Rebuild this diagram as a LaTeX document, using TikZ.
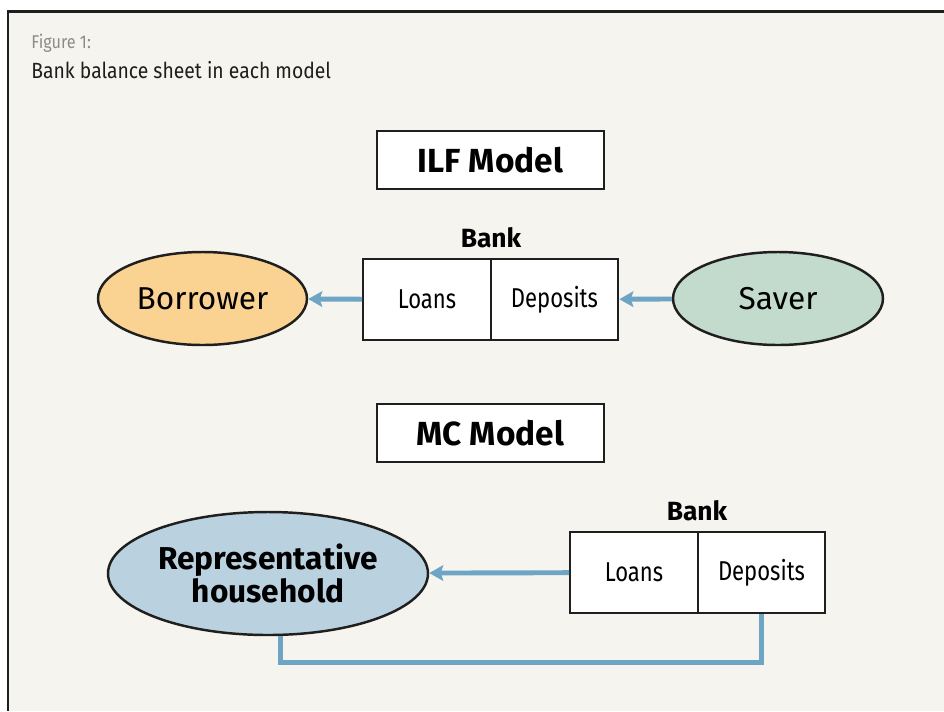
\documentclass[tikz,border=0pt]{standalone}
\usepackage{fontspec}
\setmainfont{Fira Sans}
\newfontfamily\sheetfont{Fira Sans}[FakeStretch=0.81]
\newfontfamily\captionfont{Fira Sans}[FakeStretch=0.88]
\usetikzlibrary{arrows.meta,positioning,shapes.geometric}
\definecolor{PaperBg}{HTML}{F6F4EF}
\definecolor{FrameInk}{HTML}{1E1E1E}
\definecolor{BoxInk}{HTML}{1F1F1F}
\definecolor{CaptionGrey}{HTML}{8C8C8C}
\definecolor{FlowBlue}{HTML}{6FA5C4}
\definecolor{BorrowerFill}{HTML}{FAD292}
\definecolor{SaverFill}{HTML}{C3DBCD}
\definecolor{HouseholdFill}{HTML}{BAD2E0}

\begin{document}
\begin{tikzpicture}[
  modelbox/.style={draw=BoxInk, line width=1.2pt, fill=white,
                   minimum width=4.54cm, minimum height=1.16cm,
                   font=\fontsize{19}{22}\selectfont\bfseries},
  sheet/.style={draw=BoxInk, line width=1.2pt, fill=white,
                minimum width=2.55cm, minimum height=1.62cm,
                font=\sheetfont\fontsize{15.5}{18}\selectfont},
  agent/.style={ellipse, draw=BoxInk, line width=1.4pt, inner sep=0pt,
                align=center, font=\fontsize{18}{17}\selectfont},
  banktitle/.style={anchor=base, font=\fontsize{15}{18}\selectfont\bfseries},
  flow/.style={-{Stealth[length=2.8mm, width=3.1mm, inset=0.5mm]},
               line width=2.8pt, draw=FlowBlue},
  backflow/.style={line width=2.8pt, draw=FlowBlue}
]
\useasboundingbox (0,0) rectangle (18.88,-14.22);
\fill[white] (0,0) rectangle (18.88,-14.22);
\fill[PaperBg] (0.16,-0.22) rectangle (18.88,-14.22);
\draw[FrameInk, line width=1.7pt] (0.14,-0.22) -- (18.88,-0.22);
\draw[FrameInk, line width=1.1pt] (0.16,-0.22) -- (0.16,-14.22);

\node[anchor=base west, inner sep=0pt, text=CaptionGrey,
      font=\captionfont\fontsize{10.5}{12}\selectfont]
  (fignum) at (0.62,-0.96) {Figure 1:};
\node[anchor=base west, inner sep=0pt, text=FrameInk,
      font=\captionfont\fontsize{12.5}{15}\selectfont]
  (figtitle) at (0.62,-1.56) {Bank balance sheet in each model};

% ILF model
\node[modelbox] (ilf) at (9.81,-3.2) {ILF Model};
\node[banktitle] (ilfbank) at (9.82,-4.94) {Bank};
\node[sheet] (ilfloans) at (8.54,-5.99) {Loans};
\node[sheet] (ilfdep) at (11.09,-5.99) {Deposits};
\node[agent, fill=BorrowerFill, minimum width=4.18cm, minimum height=1.86cm]
  (borrower) at (4.05,-5.97) {Borrower};
\node[agent, fill=SaverFill, minimum width=4.2cm, minimum height=1.86cm]
  (saver) at (15.56,-5.97) {Saver};
\draw[flow] (ilfloans) -- (borrower);
\draw[flow] (saver) -- (ilfdep);

% MC model
\node[modelbox] (mc) at (9.81,-8.66) {MC Model};
\node[banktitle] (mcbank) at (13.94,-10.4) {Bank};
\node[sheet] (mcloans) at (12.68,-11.45) {Loans};
\node[sheet] (mcdep) at (15.23,-11.45) {Deposits};
\node[agent, fill=HouseholdFill, minimum width=6.4cm, minimum height=2.46cm,
      font=\fontsize{18}{17}\selectfont\bfseries]
  (household) at (5.36,-11.47) {Representative\\household};
\draw[flow] (mcloans) -- (household);
\draw[backflow] (mcdep.south) -- ++(0,-0.96) -| (household.-79);
\end{tikzpicture}
\end{document}
